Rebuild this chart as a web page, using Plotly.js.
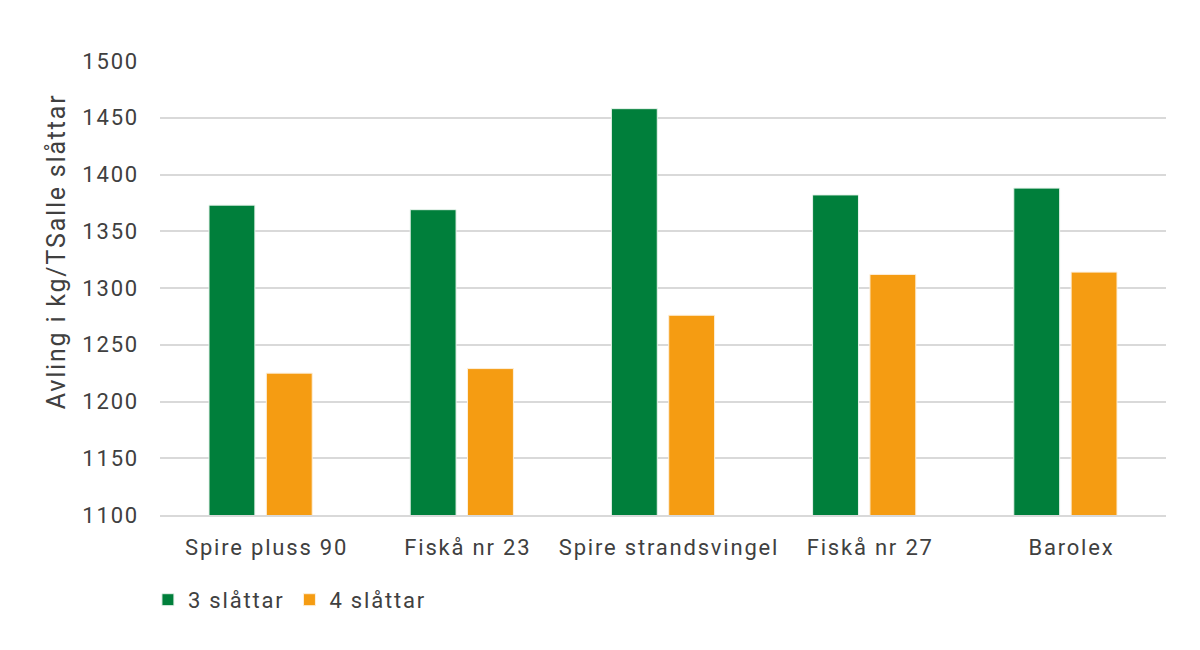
<!DOCTYPE html>
<html>
<head>
<meta charset="utf-8">
<script src="https://cdn.plot.ly/plotly-3.0.1.min.js"></script>
<style>
  body { margin: 0; background: #fff; }
  #graf { width: 1200px; height: 650px; }
  /* bredare teiknavstand, nærare DIN-skrifta i originalen */
  svg text { letter-spacing: 1.8px; }
</style>
</head>
<body>
<div id="graf"></div>
<script>
// sorter og avling (kg TS per daa, alle slåttar)
var sorter = ['Spire pluss 90', 'Fiskå nr 23', 'Spire strandsvingel', 'Fiskå nr 27', 'Barolex'];
var tre_slattar = [1373, 1369, 1458, 1382, 1388];
var fire_slattar = [1225, 1229, 1276, 1312, 1314];
var y_ticks = [1100, 1150, 1200, 1250, 1300, 1350, 1400, 1450, 1500];
var y_tittel = 'Avling i kg/TSalle slåttar';

function avling_graf(){
    let graf = document.getElementById('graf');

    var trace1 = {
        x: sorter,
        y: tre_slattar,
        name: '3 slåttar',
        type: 'bar',
        marker: { color: '#007F3B', line: { color: '#e8f3ec', width: 1 } },
        hoverinfo: 'x+y'
    };

    var trace2 = {
        x: sorter,
        y: fire_slattar,
        name: '4 slåttar',
        type: 'bar',
        marker: { color: '#F59C12', line: { color: '#fdf0dc', width: 1 } },
        hoverinfo: 'x+y'
    };

    var layout = {
        width: graf.clientWidth,
        height: graf.clientHeight,
        margin: { t: 61, b: 135, l: 160, r: 34 },
        paper_bgcolor: '#ffffff',
        plot_bgcolor: '#ffffff',
        font: { family: 'Roboto, "DejaVu Sans", sans-serif', size: 22, color: '#404040' },
        barmode: 'group',
        bargap: 0.43,
        bargroupgap: 0.2,
        showlegend: true,
        legend: {
            orientation: 'h',
            x: -0.012, xanchor: 'left',
            y: -0.187, yanchor: 'middle',
            font: { size: 22, color: '#404040' },
            itemwidth: 30
        },
        xaxis: {
            type: 'category',
            showgrid: false,
            showline: true,
            linecolor: '#d9d9d9',
            linewidth: 2,
            ticks: 'outside',
            ticklen: 12,
            tickcolor: 'rgba(0,0,0,0)',
            ticklabelshift: 6,
            tickfont: { size: 22, color: '#404040' }
        },
        yaxis: {
            range: [1100, 1500],
            tickvals: y_ticks,
            ticktext: y_ticks.map(String),
            showgrid: true,
            gridcolor: '#d9d9d9',
            gridwidth: 2,
            zeroline: false,
            showline: false,
            ticklabelstandoff: 20,
            tickfont: { size: 22, color: '#404040' }
        },
        // y-tittel som annotasjon, ikkje midtstilt på plottet i originalen
        annotations: [{
            text: y_tittel,
            xref: 'paper', yref: 'paper',
            x: -0.1034, y: 0.581,
            xanchor: 'center', yanchor: 'middle',
            textangle: -90,
            showarrow: false,
            font: { size: 25, color: '#404040' }
        }]
    };

    Plotly.newPlot('graf', [trace1, trace2], layout, { displayModeBar: false });
}

avling_graf();
</script>
</body>
</html>
